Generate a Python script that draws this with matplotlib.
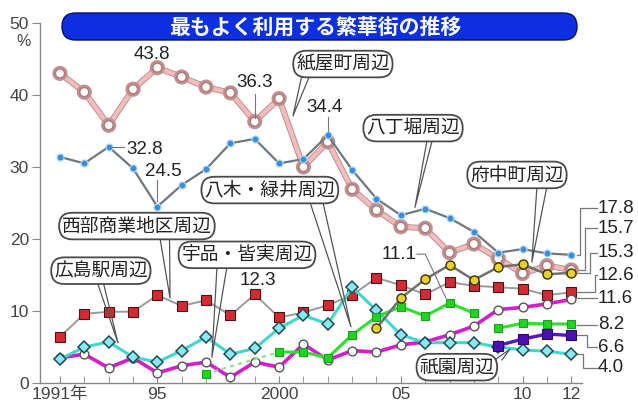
import matplotlib
matplotlib.use("Agg")
import matplotlib.pyplot as plt
import matplotlib.patheffects as pe
from matplotlib import font_manager
from matplotlib.patches import FancyBboxPatch
import numpy as np

nan = np.nan
years = np.arange(1991, 2013)

# 紙屋町周辺
kamiyacho = [43.0, 40.4, 35.8, 40.8, 43.8, 42.5, 41.1, 40.3, 36.3, 39.5, 30.0,
             33.5, 26.9, 24.0, 21.7, 21.5, 18.1, 19.3, 17.3, 15.2, 16.3, 15.7]
# 八丁堀周辺
hatchobori = [31.4, 30.5, 32.8, 29.8, 24.5, 27.5, 29.7, 33.3, 33.9, 30.5, 31.1,
              34.4, 29.6, 25.6, 23.3, 24.2, 22.9, 21.0, 18.1, 18.6, 18.0, 17.8]
# 西部商業地区周辺
seibu = [6.4, 9.6, 9.9, 9.9, 12.2, 10.7, 11.5, 9.4, 12.3, 9.1, 9.8,
         10.8, 12.2, 14.6, 13.6, 12.3, 14.0, 13.5, 13.3, 13.1, 12.2, 12.6]
# 広島駅周辺
hiroshima_st = [3.3, 5.0, 5.7, 3.6, 2.9, 4.5, 6.4, 4.0, 4.8, 7.6, 9.4,
                8.2, 13.3, 10.1, 6.7, 5.6, 5.6, 5.6, 5.0, 4.6, 4.4, 4.0]
# 宇品・皆実周辺
ujina = [3.5, 4.0, 2.1, 3.5, 1.4, 2.4, 2.9, 0.8, 2.9, 2.2, 5.4,
         3.2, 4.5, 4.3, 5.3, 5.7, 6.7, 7.9, 10.2, 10.5, 11.0, 11.6]
# 八木・緑井周辺
yagi = [nan, nan, nan, nan, nan, nan, 1.3, nan, nan, 4.3, 4.3,
        3.5, 6.7, 9.2, 10.6, 9.3, 11.1, 9.7, 7.6, 8.3, 8.2, 8.2]
# 府中町周辺
fuchu = [nan] * 13 + [7.6, 11.8, 14.4, 16.4, 14.3, 16.1, 16.5, 15.1, 15.3]
# 祇園周辺
gion = [nan] * 18 + [5.2, 6.1, 6.8, 6.6]

end_labels = ["17.8", "15.7", "15.3", "12.6", "11.6", "8.2", "6.6", "4.0"]


def has_font(name):
    try:
        font_manager.findfont(font_manager.FontProperties(family=name),
                              fallback_to_default=False)
        return True
    except Exception:
        return False


num_font = "Liberation Sans" if has_font("Liberation Sans") else "DejaVu Sans"
jp = "Noto Sans CJK JP"
plt.rcParams["font.family"] = [num_font, jp, "DejaVu Sans"]

fig = plt.figure(figsize=(6.38, 4.05), dpi=100)
ax = fig.add_axes([40 / 638, 22 / 405, 542 / 638, 360 / 405])
ax.set_xlim(1990.18, 2012.44)
ax.set_ylim(0, 50)

for s in ["top", "right"]:
    ax.spines[s].set_visible(False)
for s in ["left", "bottom"]:
    ax.spines[s].set_color("#888888")
    ax.spines[s].set_linewidth(1.0)

ax.set_yticks(range(0, 51, 10))
ax.set_yticklabels([str(v) for v in range(0, 51, 10)])
ax.tick_params(axis="y", direction="out", length=6, color="#888888",
               labelsize=12.5, labelcolor="#444444", pad=2)
ax.set_xticks([1991, 1995, 2000, 2005, 2010, 2012])
ax.set_xticklabels(["1991年", "95", "2000", "05", "10", "12"])
ax.set_xticks(years, minor=True)
ax.tick_params(axis="x", which="both", direction="in", length=5,
               color="#888888", labelsize=12.5, labelcolor="#444444", pad=3)
fig.text(24 / 638, 1 - 42 / 405, "%", ha="center", va="center",
         fontsize=11.5, color="#444444")

y_k = np.array(kamiyacho)
y_h = np.array(hatchobori)
y_s = np.array(seibu)
y_c = np.array(hiroshima_st)
y_u = np.array(ujina)
y_g = np.array(yagi)
y_f = np.array(fuchu)
y_p = np.array(gion)

# 紙屋町: thick pink band
ax.plot(years, y_k, color="#f2bcbc", lw=3, zorder=2,
        path_effects=[pe.Stroke(linewidth=4.4, foreground="#c09090"), pe.Normal()],
        marker="o", ms=6.5, mfc="white", mec="#b07878", mew=1.0)
# 八丁堀
ax.plot(years, y_h, color="#6f7880", lw=1.6, zorder=3,
        marker="o", ms=5, mfc="#3b8cdc", mec="#a8d8f4", mew=0.9)
# 西部商業地区
ax.plot(years, y_s, color="#9a9a9a", lw=1.4, zorder=3,
        marker="s", ms=7, mfc="#d42a34", mec="#4a1414", mew=0.8)
# 宇品・皆実
ax.plot(years, y_u, color="#d61ccc", lw=2.6, zorder=4,
        marker="o", ms=6.3, mfc="white", mec="#555555", mew=1.0)
# 広島駅
ax.plot(years, y_c, color="#3ed8cc", lw=2.2, zorder=5,
        marker="D", ms=6.3, mfc="#8ae8f2", mec="#1e4c50", mew=1.1)
# 八木・緑井
early = years <= 2000
mask = early & ~np.isnan(y_g)
ax.plot(years[mask], y_g[mask], color="#8ee08e", lw=1.5, ls=(0, (2, 2)), zorder=5)
for sel in [(years >= 2000) & (years <= 2008), years >= 2009]:
    ax.plot(years[sel], y_g[sel], color="#2ee02e", lw=2.2, zorder=6)
ax.plot(years, y_g, ls="none", marker="s", ms=5.5, mfc="#22d422",
        mec="#1aa01a", mew=0.8, zorder=6)
# 府中町
ax.plot(years, y_f, color="#707070", lw=1.8, zorder=6,
        marker="o", ms=6.5, mfc="#e8d228", mec="#3a3000", mew=1.0)
# 祇園
ax.plot(years, y_p, color="#5a12c4", lw=2.4, zorder=7,
        marker="s", ms=6.5, mfc="#4c10b4", mec="#2a0870", mew=0.8)

# title banner
box = FancyBboxPatch((0.62, (405 - 40) / 100), 5.15, 0.27,
                     boxstyle="round,pad=0,rounding_size=0.135",
                     transform=fig.dpi_scale_trans, fc="#0c2fe0",
                     ec="#061070", lw=1.0)
fig.patches.append(box)
fig.text(3.15 / 6.38, 1 - 27 / 405, "最もよく利用する繁華街の推移", ha="center",
         va="center", fontsize=15, fontweight="bold", color="white",
         family=[jp])

# callouts: text, text pos, wedge base x pair, base y, tip
callouts = [
    ("紙屋町周辺", (2002.62, 44.3), (2000.94, 2001.27), 42.8, (2000.57, 37.1)),
    ("八丁堀周辺", (2005.50, 35.4), (2006.07, 2006.28), 33.6, (2005.58, 24.4)),
    ("府中町周辺", (2009.77, 28.9), (2010.59, 2011.00), 27.3, (2010.38, 16.8)),
    ("八木・緑井周辺", (1999.62, 26.8), (2001.27, 2001.80), 25.1, (2002.95, 7.8)),
    ("西部商業地区周辺", (1994.16, 21.8), (1995.10, 1995.50), 20.3, (1995.52, 11.8)),
    ("広島駅周辺", (1992.68, 15.6), (1992.52, 1992.77), 14.1, (1993.38, 5.6)),
    ("宇品・皆実周辺", (1998.68, 17.8), (1997.45, 1997.86), 16.2, (1997.24, 3.6)),
    ("祇園周辺", (2007.30, 2.2), (2008.86, 2009.15), 3.2, (2009.48, 4.7)),
]
for txt, pos, bx, by, tip in callouts:
    ax.plot([bx[0], tip[0], bx[1]], [by, tip[1], by], color="#555555",
            lw=0.9, zorder=9, clip_on=False)
    ax.text(pos[0], pos[1], txt, ha="center", va="center", fontsize=13.5,
            color="#222222", family=[jp], zorder=10,
            bbox=dict(boxstyle="round,pad=0.15,rounding_size=0.7",
                      fc="white", ec="#4a4a4a", lw=1.3))

# value notes
notes = [
    ("43.8", (1994.78, 45.6), None),
    ("36.3", (1999.01, 41.7), ([1999.0, 1999.0], [40.1, 36.8])),
    ("34.4", (2001.88, 38.2), ([2002.0, 2002.0], [36.9, 35.0])),
    ("32.8", (1994.49, 32.4), ([1993.14, 1993.63], [32.8, 32.8])),
    ("24.5", (1995.23, 29.4), ([1995.0, 1995.0], [28.2, 25.3])),
    ("12.3", (1999.13, 14.3), None),
    ("11.1", (2004.92, 17.8), ([2005.66, 2006.0, 2006.85], [17.9, 17.9, 11.8])),
]
for txt, pos, leader in notes:
    if leader is not None:
        ax.plot(leader[0], leader[1], color="#777777", lw=0.8, zorder=8,
                clip_on=False)
    ax.text(pos[0], pos[1], txt, ha="center", va="center", fontsize=13.5,
            color="#222222", zorder=10)

# right-hand end labels with elbow leaders
last = [y_h[-1], y_k[-1], y_f[-1], y_s[-1], y_u[-1], y_g[-1], y_p[-1], y_c[-1]]
label_y = [24.3, 21.5, 18.1, 15.0, 11.8, 8.1, 5.0, 2.1]
elbow_x = [2012.36, 2012.56, 2012.77, 2012.97, None, None, 2012.64, 2012.48]
for txt, ly, ex, tv in zip(end_labels, label_y, elbow_x, last):
    if ex is None:
        xs, ys = [2013.05, 2012.25], [ly, ly]
    else:
        xs, ys = [2013.05, ex, ex, 2012.25], [ly, ly, tv, tv]
    ax.plot(xs, ys, color="#777777", lw=0.9, zorder=1, clip_on=False)
    ax.text(2013.1, ly, txt, ha="left", va="center", fontsize=13.5,
            color="#222222", clip_on=False)

fig.savefig("out.png", dpi=100)
